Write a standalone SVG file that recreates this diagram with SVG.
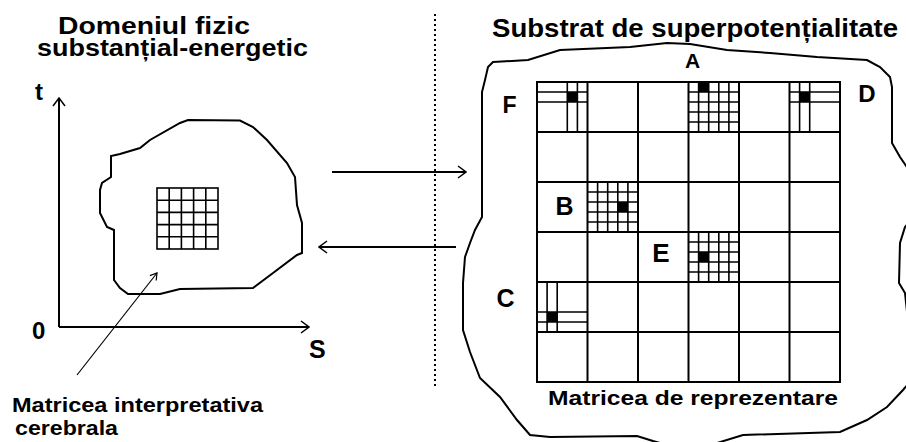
<svg xmlns="http://www.w3.org/2000/svg" width="906" height="442" viewBox="0 0 906 442">
<style>
text{font-family:"Liberation Sans",Arial,sans-serif;font-weight:bold;fill:#000}
.ln{fill:none;stroke:#000;stroke-width:2}
.thin{fill:none;stroke:#000;stroke-width:1.6}
.blk{fill:#000}
</style>
<defs>
<marker id="open" viewBox="0 0 10 14" refX="9" refY="7" markerWidth="10" markerHeight="14" orient="auto" markerUnits="userSpaceOnUse">
<path d="M1,1 L9,7 L1,13" fill="none" stroke="#000" stroke-width="1.5"/>
</marker>
<marker id="small" viewBox="0 0 10 12" refX="9" refY="6" markerWidth="8" markerHeight="10" orient="auto" markerUnits="userSpaceOnUse">
<path d="M1,1 L9,6 L1,11" fill="none" stroke="#000" stroke-width="1.5"/>
</marker>
</defs>
<rect width="906" height="442" fill="#fff"/>

<g id="titles">
<text x="58" y="34" font-size="23" textLength="192" lengthAdjust="spacingAndGlyphs">Domeniul fizic</text>
<text x="37" y="56" font-size="23" textLength="271" lengthAdjust="spacingAndGlyphs">substanțial-energetic</text>
<text x="492" y="37" font-size="25" textLength="406" lengthAdjust="spacingAndGlyphs">Substrat de superpotențialitate</text>
</g>

<line x1="435" y1="14" x2="435" y2="386" stroke="#000" stroke-width="2" stroke-dasharray="2,3"/>

<g id="axes">
<path class="ln" d="M59,327 L59,98" marker-end="url(#open)"/>
<path class="ln" d="M59,327 L309,327" marker-end="url(#open)"/>
<text x="35" y="100" font-size="24">t</text>
<text x="32" y="339" font-size="24">0</text>
<text x="309" y="358" font-size="25">S</text>
</g>

<g id="domeniul">
<path class="ln" d="M188,120 L240,120.5 L253,127 L267,140 L287,163 L295,177 L297,205 L302,223 L302,253 L297,255 L273,273 L253,288 L180,289 L160,294 L128,294 L120,288 L114,280 L114,230 L107,227 L100,213 L100,190 L102,183 L111,177 L111,156 L120,154 L140,148 L150,140 L180,123 Z"/>
<rect class="thin" x="157" y="188" width="61" height="61"/>
<path class="thin" d="M169.2,188V249M181.4,188V249M193.6,188V249M205.8,188V249M157,200.2H218M157,212.4H218M157,224.6H218M157,236.8H218"/>
</g>

<g id="substrat">
<path class="ln" d="M493,62 L528,60 L560,50 L630,47 L667,43 L690,44 L727,50 L770,53 L817,57 L867,60 L880,67 L890,77 L892,87 L892,143 L900,157 L909,170 L909,222 L905,227 L900,243 L899,283 L905,293 L909,330 L909,383 L903,390 L887,407 L867,420 L840,432 L743,435 L717,443 L660,443 L653,441 L637,436 L550,437 L530,435 L517,420 L500,397 L480,378 L470,352 L463,330 L463,283 L465,257 L470,243 L475,230 L482,217 L482,92 L485,80 L488,67 Z"/>
<text x="692.5" y="68" font-size="21" text-anchor="middle">A</text>
</g>

<g id="matrice">
<rect class="ln" x="537" y="82" width="303" height="300"/>
<path class="ln" d="M587.5,82V382M638,82V382M688.5,82V382M739,82V382M789.5,82V382M537,132H840M537,182H840M537,232H840M537,282H840M537,332H840"/>
<text x="548" y="405" font-size="21" textLength="290" lengthAdjust="spacingAndGlyphs">Matricea de reprezentare</text>
</g>

<g id="celula-F">
<path class="thin" d="M567.3,82V132M577.4,82V132M537,92H587.5M537,102H587.5"/>
<rect class="blk" x="567.3" y="92" width="10.1" height="10"/>
<text x="509.5" y="113" font-size="23" text-anchor="middle">F</text>
</g>

<g id="celula-A">
<path class="thin" d="M698.6,82V132M708.7,82V132M718.8,82V132M728.9,82V132M688.5,92H739M688.5,102H739M688.5,112H739M688.5,122H739"/>
<rect class="blk" x="698.6" y="82" width="10.1" height="10"/>
</g>

<g id="celula-D">
<path class="thin" d="M799.6,82V132M809.7,82V132M789.5,92H840M789.5,102H840"/>
<rect class="blk" x="799.6" y="92" width="10.1" height="10"/>
<text x="867" y="102" font-size="24" text-anchor="middle">D</text>
</g>

<g id="celula-B">
<path class="thin" d="M597.6,182V232M607.7,182V232M617.8,182V232M627.9,182V232M587.5,192H638M587.5,202H638M587.5,212H638M587.5,222H638"/>
<rect class="blk" x="617.8" y="202" width="10.1" height="10"/>
<text x="564.5" y="215" font-size="25" text-anchor="middle">B</text>
</g>

<g id="celula-E">
<path class="thin" d="M698.6,232V282M708.7,232V282M718.8,232V282M728.9,232V282M688.5,242H739M688.5,252H739M688.5,262H739M688.5,272H739"/>
<rect class="blk" x="698.6" y="252" width="10.1" height="10"/>
<text x="661" y="262" font-size="26" text-anchor="middle">E</text>
</g>

<g id="celula-C">
<path class="thin" d="M547.1,282V332M557.2,282V332M537,312H587.5M537,322H587.5"/>
<rect class="blk" x="547.1" y="312" width="10.1" height="10"/>
<text x="505.5" y="307" font-size="25" text-anchor="middle">C</text>
</g>

<g id="eticheta">
<text x="12" y="412" font-size="21" textLength="251" lengthAdjust="spacingAndGlyphs">Matricea interpretativa</text>
<text x="15" y="435" font-size="21" textLength="103" lengthAdjust="spacingAndGlyphs">cerebrala</text>
</g>

<g id="connectors">
<path class="ln" d="M332,172 L466,172" marker-end="url(#open)"/>
<path class="ln" d="M456,247 L319,247" marker-end="url(#open)"/>
<path fill="none" stroke="#000" stroke-width="1.2" d="M77,375 L157,273" marker-end="url(#small)"/>
</g>
</svg>
